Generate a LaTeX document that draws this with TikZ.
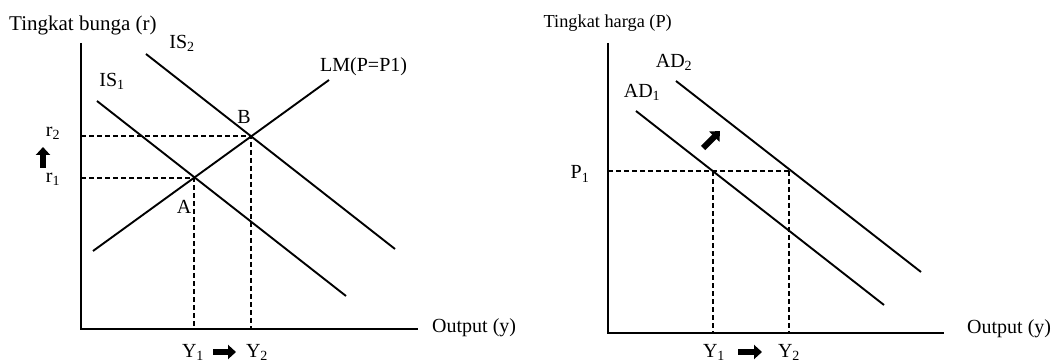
\documentclass[tikz,border=0pt]{standalone}
\usepackage{fontspec}
\setmainfont{Liberation Serif}
\usetikzlibrary{arrows.meta}

\tikzset{
  axis/.style={line width=2.3pt},
  curve/.style={line width=1.9pt},
  guide/.style={line width=1.5pt, dash pattern=on 5pt off 3pt},
  bigarrow/.style={line width=6pt, -{Triangle[length=8pt, width=14pt]}},
  lbl/.style={font=\fontsize{20pt}{23pt}\selectfont, inner sep=0pt},
  ttlbig/.style={font=\fontsize{21pt}{24pt}\selectfont, inner sep=0pt},
  ttlsmall/.style={font=\fontsize{18.3pt}{21pt}\selectfont, inner sep=0pt}
}

\begin{document}
\begin{tikzpicture}[x=1pt, y=-1pt]
  \useasboundingbox (0,0) rectangle (1054,363);

  % --- IS-LM ---
  \coordinate (o1) at (81,329);
  \coordinate (ytop1) at (81,43);
  \coordinate (xend1) at (418,329);
  \draw[axis] (ytop1) -- (o1) -- (xend1);
  \coordinate (is1a) at (97,101);   \coordinate (is1b) at (346,296);
  \coordinate (is2a) at (146,54);   \coordinate (is2b) at (395,249);
  \coordinate (lma) at (93,251);    \coordinate (lmb) at (329,80);
  \coordinate (A) at (194,178);     \coordinate (B) at (251,136);
  \draw[curve] (is1a) -- (is1b);
  \draw[curve] (is2a) -- (is2b);
  \draw[curve] (lma) -- (lmb);
  \draw[guide] (o1 |- A) -- (A) -- (A |- o1);
  \draw[guide] (o1 |- B) -- (B) -- (B |- o1);

  \node[ttlbig, anchor=west] (ttl1) at (9,25) {Tingkat bunga (r)};
  \node[lbl] (lis2) at (182,43) {IS\textsubscript{2}};
  \node[lbl] (lis1) at (112,81) {IS\textsubscript{1}};
  \node[lbl, anchor=west] (llm) at (320,67) {LM(P=P1)};
  \node[lbl] (lB) at (244,117) {B};
  \node[lbl] (lA) at (184,207) {A};
  \node[lbl] (r2) at (53,133) {r\textsubscript{2}};
  \node[lbl] (r1) at (53,179) {r\textsubscript{1}};
  \coordinate (up0) at (43,168); \coordinate (up1) at (43,147);
  \draw[bigarrow] (up0) -- (up1);
  \node[lbl, anchor=base] (y1l) at (193,357) {Y\textsubscript{1}};
  \node[lbl, anchor=base] (y2l) at (257,357) {Y\textsubscript{2}};
  \coordinate (rt0) at (213,352); \coordinate (rt1) at (236,352);
  \draw[bigarrow] (rt0) -- (rt1);
  \node[lbl, anchor=west] (out1) at (432,328) {Output (y)};

  % --- AD ---
  \coordinate (o2) at (608,333);
  \coordinate (ytop2) at (608,43);
  \coordinate (xend2) at (944,333);
  \draw[axis] (ytop2) -- (o2) -- (xend2);
  \coordinate (ad1a) at (636,111);  \coordinate (ad1b) at (884,305);
  \coordinate (ad2a) at (676,81);   \coordinate (ad2b) at (921,272);
  \coordinate (C) at (713,171);     \coordinate (D) at (789,171);
  \draw[curve] (ad1a) -- (ad1b);
  \draw[curve] (ad2a) -- (ad2b);
  \draw[guide] (o2 |- D) -- (D);
  \draw[guide] (C) -- (C |- o2);
  \draw[guide] (D) -- (D |- o2);

  \node[ttlsmall, anchor=east] (ttl2) at (672,23) {Tingkat harga (P)};
  \node[lbl] (lad2) at (674,62) {AD\textsubscript{2}};
  \node[lbl] (lad1) at (642,92) {AD\textsubscript{1}};
  \node[lbl] (p1) at (580,174) {P\textsubscript{1}};
  \coordinate (ne0) at (703,148); \coordinate (ne1) at (720,131);
  \draw[bigarrow] (ne0) -- (ne1);
  \node[lbl, anchor=base] (y1r) at (714,357) {Y\textsubscript{1}};
  \node[lbl, anchor=base] (y2r) at (789,357) {Y\textsubscript{2}};
  \coordinate (rt2) at (738,352); \coordinate (rt3) at (762,352);
  \draw[bigarrow] (rt2) -- (rt3);
  \node[lbl, anchor=west] (out2) at (967,329) {Output (y)};
\end{tikzpicture}
\end{document}
